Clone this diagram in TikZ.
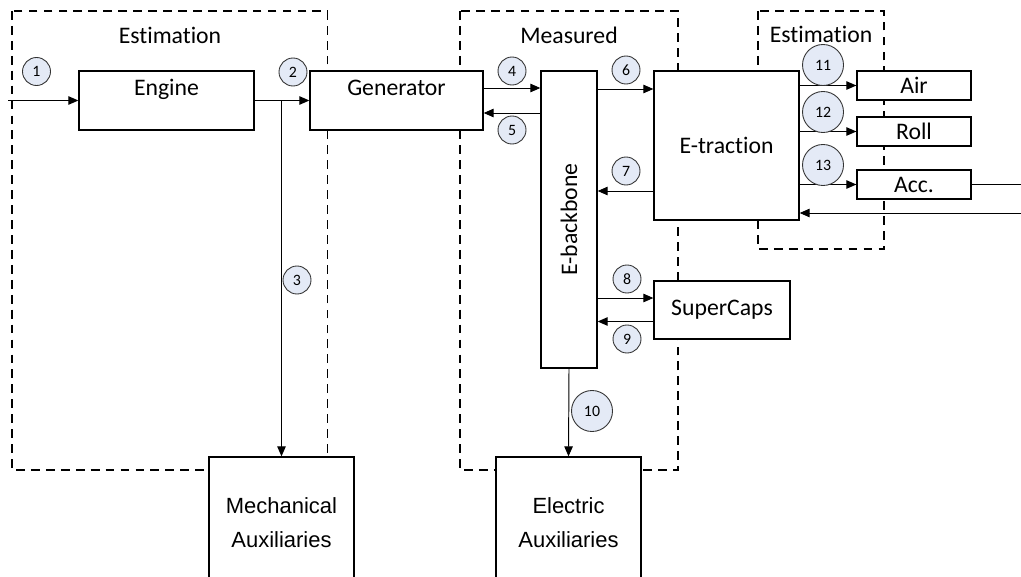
\documentclass[tikz,border=0pt]{standalone}
\usepackage{fontspec}
\setmainfont[Ligatures=CommonOff]{Carlito}
\newfontfamily\auxfont{Liberation Sans}
\usepackage{tikz}
\usetikzlibrary{arrows.meta, positioning, calc}
\definecolor{numfill}{RGB}{228,234,246}

\begin{document}
\begin{tikzpicture}[
        box/.style={rectangle, draw, fill=white, line width=0.75pt, inner sep=0pt,
                    align=center, font=\fontsize{13.5}{16}\selectfont},
        topbox/.style={box, text height=0.48cm, text depth=0.70cm},
        auxbox/.style={box, minimum width=2.9cm, minimum height=2.62cm,
                       font=\auxfont\fontsize{12.5}{19}\selectfont},
        smallbox/.style={box, minimum width=2.28cm, minimum height=0.58cm},
        num/.style={circle, draw=black!80, fill=numfill, line width=0.5pt, inner sep=0pt,
                    minimum size=0.56cm, font=\fontsize{9}{10}\selectfont},
        bignum/.style={num, minimum size=0.82cm},
        region/.style={line width=0.75pt, dash pattern=on 5pt off 3.5pt},
        title/.style={font=\fontsize{13.5}{16}\selectfont},
        arrow/.style={-{Triangle[length=0.2cm, width=0.17cm]}, line width=0.55pt}
    ]
        \useasboundingbox (0,0) rectangle (20.42,-11.52);
        \clip (0,0) rectangle (20.42,-11.52);

        % dashed regions
        \draw[region] (0.24,-0.22) rectangle (6.55,-9.4);
        \draw[region] (9.2,-0.22) rectangle (13.56,-9.4);
        \draw[region] (15.16,-0.22) rectangle (17.68,-4.98);
        \node[title] (est1) at (3.4,-0.7) {Estimation};
        \node[title] (meas) at (11.38,-0.7) {Measured};
        \node[title] (est2) at (16.42,-0.68) {Estimation};

        % blocks
        \node[topbox, minimum width=3.5cm, minimum height=1.18cm] (engine) at (3.33,-2.01) {Engine};
        \node[topbox, minimum width=3.46cm, minimum height=1.18cm] (gen) at (7.93,-2.01) {Generator};
        \node[box, minimum width=1.12cm, minimum height=5.94cm] (bb) at (11.38,-4.39) {\rotatebox{90}{E-backbone}};
        \node[box, minimum width=2.9cm, minimum height=2.98cm] (et) at (14.53,-2.91) {E-traction};
        \node[box, minimum width=2.72cm, minimum height=1.16cm] (caps) at (14.44,-6.2) {SuperCaps};
        \node[smallbox] (air) at (18.28,-1.71) {Air};
        \node[smallbox] (roll) at (18.28,-2.63) {Roll};
        \node[smallbox] (acc) at (18.28,-3.69) {Acc.};
        \node[auxbox] (mech) at (5.63,-10.45) {Mechanical\\Auxiliaries};
        \node[auxbox] (eaux) at (11.37,-10.45) {Electric\\Auxiliaries};

        % free ends and offsets
        \coordinate (in1) at (0.16,-2.01);
        \coordinate (accout) at (20.5,-3.69);
        \coordinate (back) at (20.5,-4.26);
        \path (gen.east) ++(0,0.25) coordinate (a4) (gen.east) ++(0,-0.25) coordinate (a5);
        \path (et.west) ++(0,1.13) coordinate (a6) (et.west) ++(0,-0.91) coordinate (a7);
        \path (caps.west) ++(0,0.24) coordinate (a8) (caps.west) ++(0,-0.23) coordinate (a9);

        % connectors
        \draw[arrow] (in1) -- (engine.west);
        \draw[arrow] (engine.east) -- (gen.west);
        \draw[arrow] (mech.north |- engine.east) -- (mech.north);
        \draw[arrow] (a4) -- (a4 -| bb.west);
        \draw[arrow] (a5 -| bb.west) -- (a5);
        \draw[arrow] (a6 -| bb.east) -- (a6);
        \draw[arrow] (a7) -- (a7 -| bb.east);
        \draw[arrow] (a8 -| bb.east) -- (a8);
        \draw[arrow] (a9) -- (a9 -| bb.east);
        \draw[arrow] (bb.south) -- (eaux.north);
        \draw[arrow] (et.east |- air.west) -- (air.west);
        \draw[arrow] (et.east |- roll.west) -- (roll.west);
        \draw[arrow] (et.east |- acc.west) -- (acc.west);
        \draw[line width=0.55pt] (acc.east) -- (accout);
        \draw[arrow] (back) -- (back -| et.east);

        % signal numbers
        \node[num] (n1) at (0.73,-1.43) {1};
        \node[num] (n2) at (5.86,-1.44) {2};
        \node[num] (n3) at (5.94,-5.6) {3};
        \node[num] (n4) at (10.24,-1.42) {4};
        \node[num] (n5) at (10.24,-2.6) {5};
        \node[num] (n6) at (12.52,-1.4) {6};
        \node[num] (n7) at (12.52,-3.42) {7};
        \node[num] (n8) at (12.54,-5.58) {8};
        \node[num] (n9) at (12.54,-6.78) {9};
        \node[bignum] (n10) at (11.84,-8.22) {10};
        \node[bignum] (n11) at (16.46,-1.3) {11};
        \node[bignum] (n12) at (16.46,-2.24) {12};
        \node[bignum] (n13) at (16.46,-3.3) {13};
    \end{tikzpicture}
\end{document}
